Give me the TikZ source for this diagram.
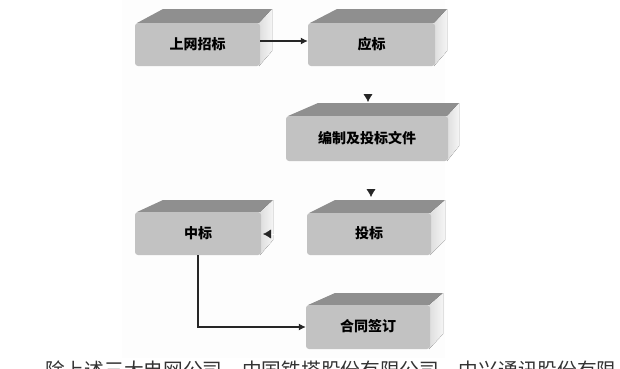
\documentclass[tikz,border=0pt]{standalone}
\usepackage{fontspec}
\setmainfont{Noto Sans CJK SC}
\usetikzlibrary{arrows.meta}
\definecolor{fr}{gray}{0.76}
\definecolor{tp}{gray}{0.56}
\tikzset{
  frontface/.style={fill=fr, rounded corners=3pt, inner sep=0pt, text=black, font=\fontsize{14pt}{15pt}\selectfont\bfseries},
  conn/.style={line width=1.1pt, black!85, -{Latex[length=7pt,width=7pt]}},
  tiponly/.style={line width=0.4pt, draw=white, -{Latex[length=8pt,width=9pt,color=black!85,fill=black!85]}},
}
% name, xleft, xright, xbackleft, xbackright, yback, yfront, ybottom, text
\newcommand{\blk}[9]{%
  \fill[tp] (#4,#6) -- (#5,#6) -- (#3,#7) -- (#2+2,#7) -- cycle;
  \fill[left color=black!13,right color=black!4] (#3-1,#7) -- (#5,#6) -- (#5,#8-15) -- (#3-1,#8) -- cycle;
  \pgfmathsetmacro{\bwd}{#3-#2}
  \pgfmathsetmacro{\bht}{#8-#7}
  \pgfmathsetmacro{\bcx}{(#2+#3)/2}
  \pgfmathsetmacro{\bcy}{(#7+#8)/2}
  \node[frontface, minimum width=\bwd pt, minimum height=\bht pt] (#1) at (\bcx,\bcy) {\raisebox{2.5pt}{#9}};
}
\begin{document}
\begin{tikzpicture}[x=1pt,y=-1pt]
\useasboundingbox (0,0) rectangle (620,368);
\fill[white] (0,0) rectangle (620,368);
\fill[black!0.7] (122,0) rectangle (445,358);
\blk{a}{135}{260}{163}{272}{9}{23}{66}{上网招标}
\blk{b}{308}{435}{337}{447}{9}{23}{66}{应标}
\blk{c}{286}{448}{318}{459}{103}{116}{161}{编制及投标文件}
\blk{d}{307}{431}{335}{445}{200}{213}{255}{投标}
\blk{e}{135}{261}{163}{273}{200}{212}{255}{中标}
\blk{f}{306}{430}{335}{443}{293}{305}{349}{合同签订}
\coordinate (bcs) at (368,90);
\coordinate (bct) at (368,102);
\coordinate (cds) at (371,185);
\coordinate (cdt) at (371,197);
\coordinate (des) at (277,234);
\coordinate (det) at (263,234);
\draw[conn] ([yshift=3.5pt]a.east) -- ([yshift=3.5pt]b.west);
\draw[tiponly] (bcs) -- (bct);
\draw[tiponly] (cds) -- (cdt);
\draw[tiponly] (des) -- (det);
\draw[conn] (e.south) |- (f.west);
\node[font=\fontsize{19.7pt}{21pt}\selectfont, text=black!80, anchor=base west, inner sep=0pt] (cap) at (45,377) {除上述三大电网公司，中国铁塔股份有限公司，中兴通讯股份有限};
\end{tikzpicture}
\end{document}
